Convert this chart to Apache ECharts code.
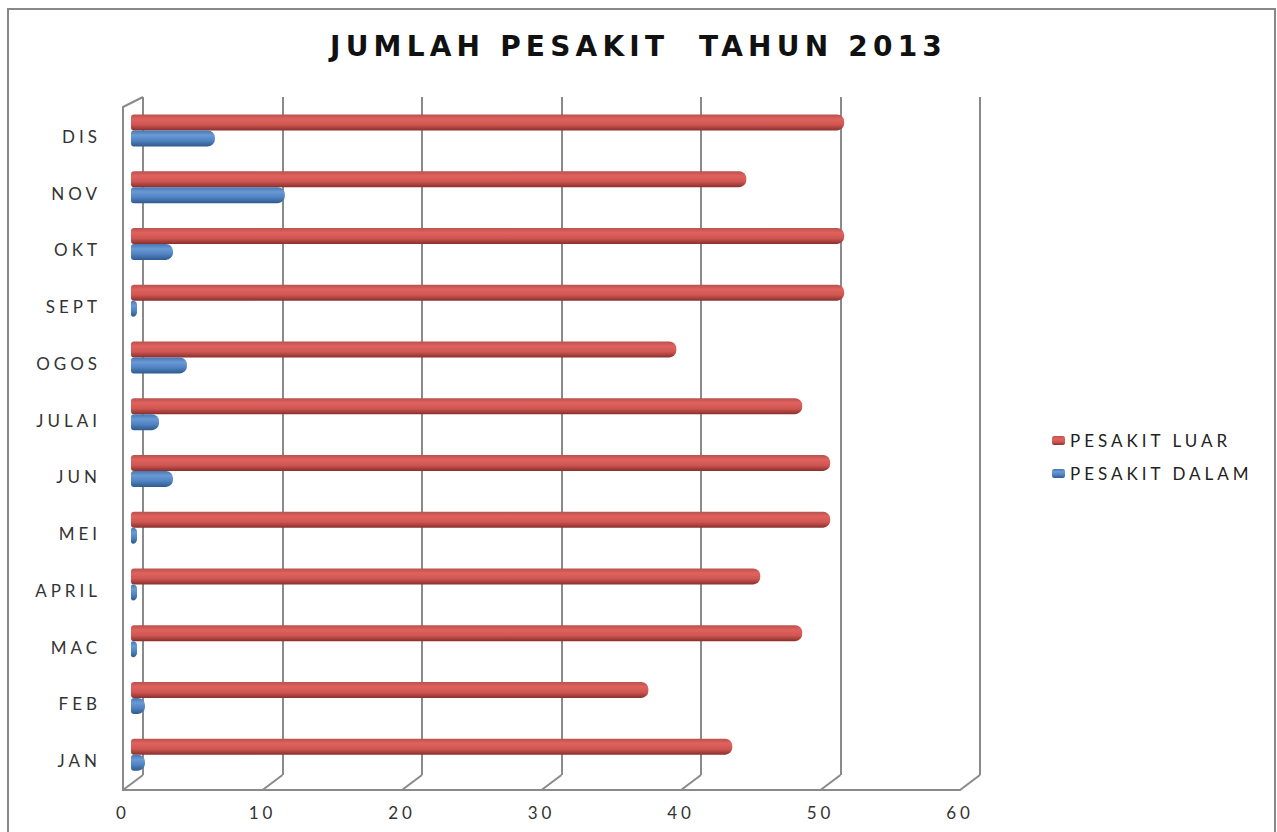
<!DOCTYPE html>
<html>
<head>
<meta charset="utf-8">
<script src="https://cdn.jsdelivr.net/npm/echarts@6/dist/echarts.min.js"></script>
<style>
  html, body { margin: 0; padding: 0; background: #fff; }
  #chart { width: 1277px; height: 832px; }
  /* the original chart's lettering is stretched wide */
  #chart text { letter-spacing: 4px; }
  #chart text[style*="28px"], #chart text[font-size="28px"] { letter-spacing: 5.2px; }
</style>
</head>
<body>
<div id="chart"></div>
<script>
const months = ['JAN', 'FEB', 'MAC', 'APRIL', 'MEI', 'JUN', 'JULAI', 'OGOS', 'SEPT', 'OKT', 'NOV', 'DIS']
const pesakitLuar = [43, 37, 48, 45, 50, 50, 48, 39, 51, 51, 44, 51]
const pesakitDalam = [1, 1, 0, 0, 0, 3, 2, 4, 0, 3, 11, 6]
const xTicks = [0, 10, 20, 30, 40, 50, 60]

const chart = echarts.init(document.getElementById('chart'), null, { renderer: 'svg' })

function tube(top, light, mid, dark) {
  return new echarts.graphic.LinearGradient(0, 0, 0, 1, [
    { offset: 0, color: top },
    { offset: 0.3, color: light },
    { offset: 0.65, color: mid },
    { offset: 1, color: dark },
  ])
}

const gridColor = '#8a8a8a'
const fontFamily = 'Lato, "Open Sans", sans-serif'

const options = {
  backgroundColor: '#fff',
  animation: false,
  title: {
    text: 'JUMLAH PESAKIT  TAHUN 2013',
    left: 'center',
    top: 27,
    textStyle: { fontFamily: '"DejaVu Sans", sans-serif', fontSize: 28, fontWeight: 'bold', color: '#111' },
  },
  legend: {
    orient: 'vertical',
    left: 1047,
    top: 427,
    itemWidth: 13,
    itemHeight: 9,
    itemGap: 16,
    data: ['PESAKIT LUAR', 'PESAKIT DALAM'],
    textStyle: { fontFamily: fontFamily, fontSize: 17, color: '#222' },
  },
  graphic: [
    {
      type: 'rect',
      shape: { x: 8, y: 9, width: 1267, height: 840 },
      style: { fill: 'none', stroke: '#888', lineWidth: 2 },
      silent: true,
      z: -1,
    },
  ],
  grid: [
    // bars
    { left: 131, right: 307, top: 102, bottom: 49 },
    // back wall
    { left: 143, right: 297, top: 97, bottom: 57 },
    // front floor edge + labels
    { left: 123, right: 317, top: 107, bottom: 42 },
  ],
  xAxis: [
    {
      gridIndex: 0, type: 'value', min: 0, max: 60, interval: 10,
      axisLine: { show: false }, axisTick: { show: false },
      axisLabel: { show: false }, splitLine: { show: false },
    },
    {
      gridIndex: 1, type: 'value', min: 0, max: 60, interval: 10,
      axisLine: { show: false }, axisTick: { show: false }, axisLabel: { show: false },
      splitLine: { show: true, lineStyle: { color: gridColor, width: 2 } },
    },
    {
      gridIndex: 2, type: 'value', min: 0, max: 60, interval: 10,
      axisLine: { show: true, lineStyle: { color: gridColor, width: 2 } },
      axisTick: { show: false },
      splitLine: { show: false },
      axisLabel: {
        margin: 14, fontFamily: fontFamily, fontSize: 17, color: '#333',
        formatter: function (v) { return xTicks.indexOf(v) >= 0 ? String(v) : '' },
      },
    },
  ],
  yAxis: [
    {
      gridIndex: 0, type: 'category', data: months,
      axisLine: { show: false }, axisTick: { show: false },
      axisLabel: {
        margin: 30, fontFamily: fontFamily, fontSize: 17, color: '#333',
        verticalAlign: 'top', lineHeight: 12,
      },
    },
    {
      gridIndex: 1, type: 'value', min: 0, max: 1,
      axisLine: { show: false }, axisTick: { show: false },
      axisLabel: { show: false }, splitLine: { show: false },
    },
    {
      gridIndex: 2, type: 'value', min: 0, max: 1,
      axisLine: { show: true, lineStyle: { color: gridColor, width: 2 } },
      axisTick: { show: false }, axisLabel: { show: false }, splitLine: { show: false },
    },
  ],
  series: [
    {
      name: 'PESAKIT LUAR',
      type: 'bar',
      xAxisIndex: 0, yAxisIndex: 0,
      data: pesakitLuar,
      barWidth: 16,
      barGap: '0%',
      itemStyle: {
        color: tube('#b8514d', '#e0625e', '#cf5652', '#8a302d'),
        borderRadius: [3, 7, 7, 3],
      },
    },
    {
      name: 'PESAKIT DALAM',
      type: 'bar',
      xAxisIndex: 0, yAxisIndex: 0,
      data: pesakitDalam,
      barWidth: 16,
      barGap: '0%',
      barMinHeight: 6,
      itemStyle: {
        color: tube('#4676b0', '#6a9ad6', '#4f82c0', '#2f5a8e'),
        borderRadius: [3, 7, 7, 3],
      },
    },
    {
      // slanted floor / wall joints of the 3D frame
      type: 'custom',
      xAxisIndex: 2, yAxisIndex: 2,
      silent: true,
      data: xTicks.map(function (v) { return [v, 0] }).concat([[0, 1]]),
      renderItem: function (params, api) {
        const p = api.coord([api.value(0), api.value(1)])
        return {
          type: 'line',
          shape: { x1: p[0], y1: p[1], x2: p[0] + 20, y2: p[1] - (api.value(1) ? 10 : 15) },
          style: { stroke: gridColor, lineWidth: 2 },
        }
      },
    },
  ],
}

chart.setOption(options)
</script>
</body>
</html>
